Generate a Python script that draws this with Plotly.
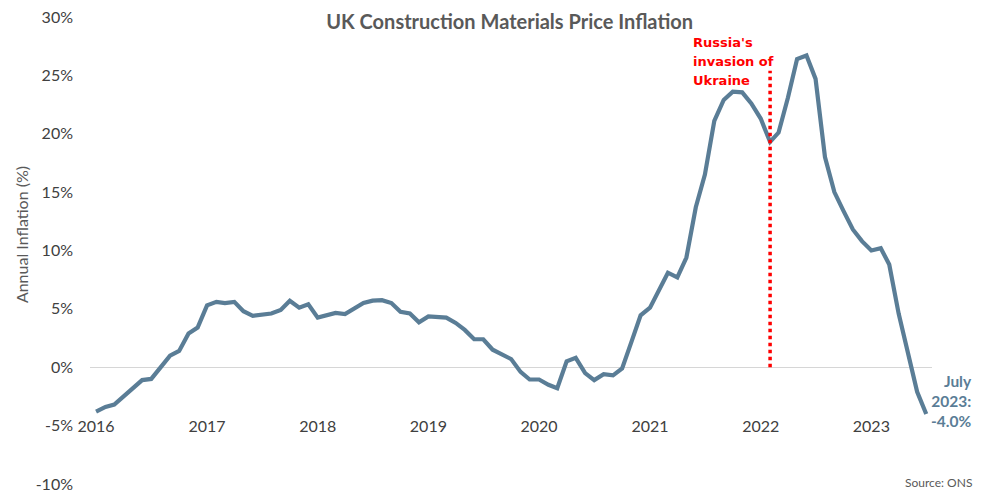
import pandas as pd
import plotly.graph_objects as go

# Monthly annual inflation (%), Jan 2016 - Jul 2023
months = pd.date_range("2016-01-01", "2023-07-01", freq="MS")
inflation = [
    -3.8, -3.4, -3.2, -2.5, -1.8, -1.1, -1.0, 0.0, 1.0, 1.4, 2.9, 3.4,      # 2016
    5.3, 5.6, 5.5, 5.6, 4.8, 4.4, 4.5, 4.6, 4.9, 5.7, 5.1, 5.4,             # 2017
    4.25, 4.5, 4.65, 4.55, 5.0, 5.5, 5.7, 5.75, 5.5, 4.75, 4.6, 3.85,       # 2018
    4.35, 4.25, 4.25, 3.8, 3.2, 2.4, 2.4, 1.5, 1.1, 0.7, -0.4, -1.05,       # 2019
    -1.05, -1.5, -1.8, 0.5, 0.8, -0.5, -1.1, -0.6, -0.7, -0.1, 2.2, 4.45,   # 2020
    5.1, 6.7, 8.1, 7.7, 9.4, 13.7, 16.5, 21.1, 22.9, 23.6, 23.55, 22.6,     # 2021
    21.3, 19.3, 20.1, 23.1, 26.4, 26.7, 24.7, 18.0, 15.0, 13.4, 11.8, 10.8, # 2022
    10.0, 10.2, 8.8, 4.6, 1.2, -2.1, -4.0,                                  # 2023
]
year_ticks = [f"{y}-01-01" for y in range(2016, 2024)]
year_labels = [str(y) for y in range(2016, 2024)]
y_ticks = [-10, -5, 0, 5, 10, 15, 20, 25, 30]
y_labels = [f"{v}%" for v in y_ticks]
invasion_date = "2022-02-01"
invasion_line = [0, 25.4]
invasion_text = ["Russia's", "invasion of", "Ukraine"]

LINE = "#5a7d96"
TXT = "#404040"
FONT = "Lato"

fig = go.Figure()
fig.add_trace(go.Scatter(
    x=months, y=inflation, mode="lines",
    line=dict(color=LINE, width=4.2), hoverinfo="x+y", showlegend=False,
))
fig.add_trace(go.Scatter(
    x=[invasion_date, invasion_date], y=invasion_line, mode="lines",
    line=dict(color="#ff0000", width=3.5, dash="dot"), showlegend=False,
))

# page body has an 8px margin, so the figure is sized to the visible area
fig.update_layout(
    width=974, height=484,
    margin=dict(l=82, r=50, t=9, b=8),
    plot_bgcolor="white", paper_bgcolor="white",
    font=dict(family=FONT, color=TXT, size=16),
    title=dict(text="<b>UK Construction Materials Price Inflation</b>",
               x=0.515, xanchor="center", y=0.986, yanchor="top",
               font=dict(size=20, color="#595959", family=FONT),
               automargin=False),
    xaxis=dict(
        type="date", range=["2015-12-12", "2023-07-20"],
        tickvals=year_ticks, ticktext=year_labels,
        showgrid=False, showline=False, zeroline=False, ticks="",
        anchor="free", position=0.148, automargin=False,
        tickfont=dict(size=16, color=TXT),
    ),
    yaxis=dict(
        range=[-10, 30], tickvals=y_ticks, ticktext=y_labels,
        showgrid=False, zeroline=True, zerolinecolor="#d6d6d6", zerolinewidth=1,
        showline=False, ticks="", ticklabelstandoff=16, automargin=False,
        ticklabeloverflow="allow",
        tickfont=dict(size=16, color=TXT),
    ),
)

# y-axis title
fig.add_annotation(
    x=-0.082, y=0.535, xref="paper", yref="paper",
    text="Annual Inflation (%)", textangle=-90, showarrow=False,
    xanchor="center", yanchor="middle",
    font=dict(size=16, color="#595959", family=FONT),
)
for i, line in enumerate(invasion_text):
    fig.add_annotation(
        x=invasion_date, y=1.0, xref="x", yref="paper",
        text=f"<b>{line}</b>",
        showarrow=False, xanchor="left", yanchor="middle", align="left",
        xshift=-79, yshift=-25 - 19 * i,
        font=dict(size=13, color="#ff0000", family="DejaVu Sans"),
    )
fig.add_annotation(
    x=1.0, y=-4.0, xref="paper", yref="y",
    text="<b>July<br>2023:<br>-4.0%</b>",
    showarrow=False, xanchor="right", yanchor="middle", align="right",
    xshift=42, yshift=13,
    font=dict(size=15.5, color=LINE, family=FONT),
)
fig.add_annotation(
    x=1.0, y=0.0, xref="paper", yref="paper",
    text="Source: ONS", showarrow=False, xanchor="right", yanchor="bottom",
    xshift=42, yshift=-8,
    font=dict(size=12, color="#595959", family=FONT),
)

fig.write_html("out.html")
